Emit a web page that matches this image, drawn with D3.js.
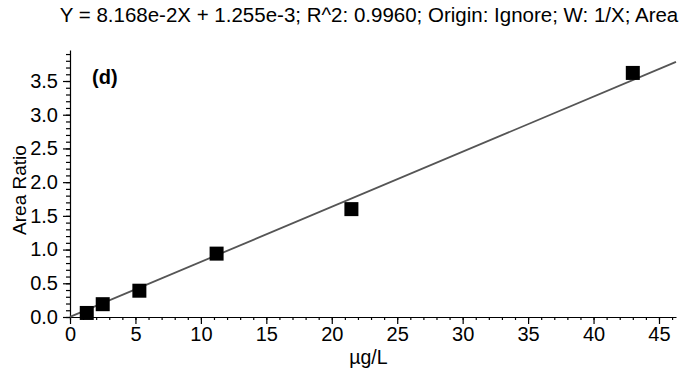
<!DOCTYPE html>
<html>
<head>
<meta charset="utf-8">
<script src="https://cdn.jsdelivr.net/npm/d3@7"></script>
<style>
  body { margin: 0; background: #fff; }
  text { font-family: "Liberation Sans", Arial, sans-serif; }
</style>
</head>
<body>
<div id="chart"></div>
<script>
// calibration points
const conc = [1.28, 2.5, 5.3, 11.2, 21.5, 43.0];
const ratio = [0.06, 0.19, 0.39, 0.94, 1.60, 3.62];
const fitSlope = 8.168e-2;
const fitIntercept = 1.255e-3;
const xTicks = [0, 5, 10, 15, 20, 25, 30, 35, 40, 45];
const yTicks = [0, 0.5, 1.0, 1.5, 2.0, 2.5, 3.0, 3.5];
const title = "Y = 8.168e-2X + 1.255e-3; R^2: 0.9960; Origin: Ignore; W: 1/X; Area";

const width = 684, height = 371;
const margin = { left: 70, right: 8, top: 50, bottom: 54 };

const svg = d3.select("#chart").append("svg")
  .attr("width", width)
  .attr("height", height);

const x = d3.scaleLinear().domain([0, 46.3]).range([margin.left, width - margin.right]);
const y = d3.scaleLinear().domain([0, 3.96]).range([height - margin.bottom, margin.top]);

// minor ticks first, then major axes on top
svg.append("g")
  .attr("transform", "translate(0," + (height - margin.bottom) + ")")
  .call(d3.axisBottom(x).tickValues(d3.range(0, 47, 1)).tickSize(3).tickFormat(""))
  .call(g => g.select(".domain").remove());

svg.append("g")
  .attr("transform", "translate(" + margin.left + ",0)")
  .call(d3.axisLeft(y).tickValues(d3.range(0, 3.95, 0.1)).tickSize(4).tickFormat(""))
  .call(g => g.select(".domain").remove());

svg.append("g")
  .attr("class", "major")
  .attr("transform", "translate(0," + (height - margin.bottom) + ")")
  .call(d3.axisBottom(x).tickValues(xTicks).tickSize(7).tickPadding(3).tickSizeOuter(0));

svg.append("g")
  .attr("class", "major")
  .attr("transform", "translate(" + margin.left + ",0)")
  .call(d3.axisLeft(y).tickValues(yTicks).tickSize(7).tickPadding(5).tickSizeOuter(0).tickFormat(d3.format(".1f")));

svg.selectAll(".major .tick text")
  .style("font-size", "20px")
  .attr("fill", "#000");
svg.selectAll(".domain, .tick line").attr("stroke", "#000").attr("stroke-width", 1.2);

// regression line
const xEnd = x.domain()[1];
svg.append("line")
  .attr("x1", x(0)).attr("y1", y(fitIntercept))
  .attr("x2", x(xEnd)).attr("y2", y(fitSlope * xEnd + fitIntercept))
  .attr("stroke", "#555")
  .attr("stroke-width", 1.8);

// points
const sq = 14;
svg.selectAll("rect.pt")
  .data(conc.map((c, i) => [c, ratio[i]]))
  .enter()
  .append("rect")
  .attr("class", "pt")
  .attr("x", d => x(d[0]) - sq / 2)
  .attr("y", d => y(d[1]) - sq / 2)
  .attr("width", sq)
  .attr("height", sq)
  .attr("fill", "#000");

// texts
svg.append("text")
  .attr("x", 369).attr("y", 22)
  .attr("text-anchor", "middle")
  .style("font-size", "20.5px")
  .text(title);

svg.append("text")
  .attr("x", 92).attr("y", 84)
  .style("font-size", "20px")
  .style("font-weight", "bold")
  .text("(d)");

svg.append("text")
  .attr("transform", "translate(26,190) rotate(-90)")
  .attr("text-anchor", "middle")
  .style("font-size", "19px")
  .text("Area Ratio");

svg.append("text")
  .attr("x", x(22.8)).attr("y", 364)
  .attr("text-anchor", "middle")
  .style("font-size", "19.5px")
  .text("µg/L");
</script>
</body>
</html>
